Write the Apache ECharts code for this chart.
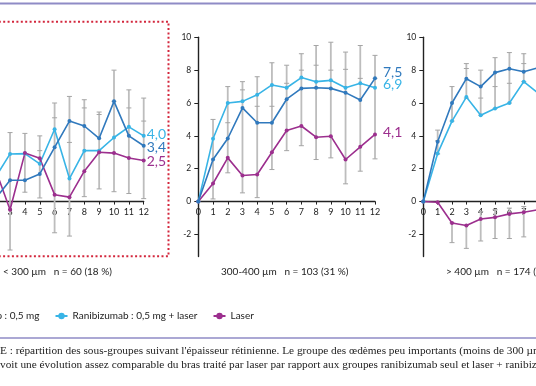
<!DOCTYPE html>
<html>
<head>
<meta charset="utf-8">
<script src="https://cdn.jsdelivr.net/npm/echarts@6/dist/echarts.min.js"></script>
<style>
html,body{margin:0;padding:0;background:#fff;overflow:hidden;width:536px;height:386px;position:relative;}
#c{position:absolute;left:-80px;top:0;width:720px;height:386px;}
</style>
</head>
<body>
<div id="c"></div>
<script>
// ---- data ----
const xs = [0,1,2,3,4,5,6,7,8,9,10,11,12];
const seriesNames = ['Ranibizumab : 0,5 mg', 'Ranibizumab : 0,5 mg + laser', 'Laser'];
const panelTitles = ['< 300 µm   n = 60 (18 %)', '300-400 µm   n = 103 (31 %)', '> 400 µm   n = 174 (52 %)'];
const yTicks = [-2, 0, 2, 4, 6, 8, 10];

// panel 1 : < 300 µm
const p1Rani      = [0, 0.9, 0.15, 1.3, 1.3, 1.68, 3.3, 4.9, 4.6, 3.85, 6.1, 4.0, 3.4];
const p1RaniLaser = [0, 1.5, 1.45, 2.9, 2.92, 2.3, 4.4, 1.4, 3.1, 3.1, 3.9, 4.55, 4.0];
const p1Laser     = [0, 1.2, 2.0, -0.5, 2.95, 2.63, 0.42, 0.27, 1.85, 3.0, 2.95, 2.65, 2.5];
const p1Bars = [[3,-2.95,4.2],[4,0.57,4.15],[5,0.22,4.0],[6,-1.9,6.0],[7,-2.1,6.4],[8,0.3,6.2],[9,0.77,5.45],[10,0.6,8.0],[11,0.49,6.8],[12,0.18,6.3]];
const p1Ticks = [[5,3.1],[6,5.1],[7,3.6],[8,5.7],[9,5.3],[10,6.1],[11,5.7],[12,4.9]];

// panel 2 : 300-400 µm
const p2Rani      = [0, 2.56, 3.84, 5.7, 4.8, 4.8, 6.23, 6.89, 6.93, 6.89, 6.63, 6.18, 7.5];
const p2RaniLaser = [0, 3.82, 6.0, 6.1, 6.5, 7.1, 6.93, 7.55, 7.3, 7.38, 6.93, 7.2, 6.93];
const p2Laser     = [0, 1.1, 2.66, 1.59, 1.65, 3.0, 4.33, 4.6, 3.92, 3.98, 2.56, 3.33, 4.09];
const p2Bars = [[1,0.16,5.0],[2,1.75,7.0],[3,0.53,7.3],[4,0.24,7.6],[5,1.95,8.45],[6,3.1,8.3],[7,3.4,9.0],[8,2.56,9.5],[9,2.66,9.7],[10,1.08,9.1],[11,1.85,9.5],[12,2.6,8.9]];
const p2Ticks = [[2,4.8],[3,6.8],[4,5.8],[5,5.8],[6,7.2],[7,8.0],[8,8.3],[9,8.0],[10,8.05],[11,7.5],[12,7.5]];

// panel 3 : > 400 µm (visible part only)
const p3Rani      = [0, 3.64, 6.0, 7.48, 7.0, 7.85, 8.09, 7.9, 8.15];
const p3RaniLaser = [0, 2.93, 4.9, 6.36, 5.26, 5.67, 6.0, 7.3, 6.6];
const p3Laser     = [0, -0.04, -1.3, -1.46, -1.06, -0.96, -0.75, -0.65, -0.5];
const p3Bars = [[1,2.9,4.35],[2,4.9,7.0],[3,6.3,8.4],[4,5.26,8.0],[5,5.67,8.76],[6,6.0,9.07],[7,7.3,9.0],
                [2,-2.5,-1.3],[3,-2.85,-1.46],[4,-2.4,-0.6],[5,-2.25,-0.5],[6,-2.25,-0.4],[7,-2.15,-0.3]];
const p3Ticks = [[1,3.7],[3,8.1],[4,6.3],[5,7.0],[6,7.2],[7,8.4]];

const captionLines = [
  "E : répartition des sous-groupes suivant l'épaisseur rétinienne. Le groupe des œdèmes peu importants (moins de 300 µm",
  "voit une évolution assez comparable du bras traité par laser par rapport aux groupes ranibizumab seul et laser + ranibizumab."
];

// ---- styling / layout ----
const SH = 80; // canvas is shifted 80px left so that panels cut by the page edge can be laid out
const colors = ['#3079bd', '#38b4e6', '#9c2f8e'];
const FONT = 'Lato';
const panels = [
  {rani: p1Rani, rl: p1RaniLaser, laser: p1Laser, bars: p1Bars, ticks: p1Ticks, left: -34.5, width: 178.2, showY: false,
   labelDist: 3, labelOff: [[0,1.5],[0,-1],[0,0.5]]},
  {rani: p2Rani, rl: p2RaniLaser, laser: p2Laser, bars: p2Bars, ticks: p2Ticks, left: 198.3, width: 176.7, showY: true,
   labelDist: 8, labelOff: [[0,-6],[0,-3],[0,-2]]},
  {rani: p3Rani, rl: p3RaniLaser, laser: p3Laser, bars: p3Bars, ticks: p3Ticks, left: 423.3, width: 172.2, showY: true,
   labelDist: null}
];
const GTOP = 37.3, GH = 219.3, YMIN = -3.35, YMAX = 10;
// x axis sits on y = 0: offset it up from the grid bottom by the height of the negative range
const X_OFFSET = -GH * (0 - YMIN) / (YMAX - YMIN);

const fmt = v => v.toFixed(1).replace('.', ',');

const grids = [], xAxes = [], yAxes = [], series = [];
panels.forEach((p, i) => {
  grids.push({left: p.left + SH, top: GTOP, width: p.width, height: GH});
  xAxes.push({
    type: 'value', gridIndex: i, min: 0, max: 12, interval: 1, position: 'bottom', offset: X_OFFSET,
    axisLine: {show: true, onZero: false, lineStyle: {color: '#222', width: 1.4}},
    axisTick: {show: true, length: 3, lineStyle: {color: '#222', width: 1}},
    axisLabel: {fontFamily: FONT, fontSize: 9, color: '#222', margin: 6},
    splitLine: {show: false}
  });
  yAxes.push({
    type: 'value', gridIndex: i, min: YMIN, max: YMAX, show: p.showY,
    axisLine: {show: true, onZero: false, lineStyle: {color: '#222', width: 1.4}},
    axisTick: {show: true, length: 4, customValues: yTicks, lineStyle: {color: '#222', width: 1}},
    axisLabel: {fontFamily: FONT, fontSize: 8.5, color: '#222', margin: 7, customValues: yTicks},
    splitLine: {show: false}
  });
  // error bars
  series.push({
    type: 'custom', xAxisIndex: i, yAxisIndex: i, z: 1, silent: true,
    encode: {x: 0, y: [1, 2]},
    data: p.bars,
    renderItem: function (params, api) {
      const x = api.value(0);
      const a = api.coord([x, api.value(1)]);
      const b = api.coord([x, api.value(2)]);
      const w = 2.5;
      const st = {stroke: '#bdbdbd', lineWidth: 1.8};
      const cs = {stroke: '#a5a5a5', lineWidth: 1};
      return {type: 'group', children: [
        {type: 'line', shape: {x1: a[0], y1: a[1], x2: b[0], y2: b[1]}, style: st},
        {type: 'line', shape: {x1: a[0]-w, y1: a[1], x2: a[0]+w, y2: a[1]}, style: cs},
        {type: 'line', shape: {x1: b[0]-w, y1: b[1], x2: b[0]+w, y2: b[1]}, style: cs}
      ]};
    }
  });
  series.push({
    type: 'custom', xAxisIndex: i, yAxisIndex: i, z: 1, silent: true,
    encode: {x: 0, y: 1},
    data: p.ticks,
    renderItem: function (params, api) {
      const c = api.coord([api.value(0), api.value(1)]);
      return {type: 'line', shape: {x1: c[0]-2.5, y1: c[1], x2: c[0]+2.5, y2: c[1]}, style: {stroke: '#a5a5a5', lineWidth: 1}};
    }
  });
  [p.rani, p.rl, p.laser].forEach((arr, k) => {
    const s = {
      type: 'line', name: seriesNames[k], xAxisIndex: i, yAxisIndex: i, z: 3 + (k === 0 ? 1 : 0),
      data: arr.map((v, j) => [xs[j], v]),
      symbol: 'circle', symbolSize: 4, showSymbol: true,
      color: colors[k],
      lineStyle: {color: colors[k], width: 1.6},
      itemStyle: {color: colors[k]},
      animation: false
    };
    if (p.labelDist !== null) {
      s.endLabel = {
        show: true, formatter: fmt(arr[arr.length - 1]), color: colors[k],
        fontFamily: FONT, fontSize: 14, distance: p.labelDist, offset: p.labelOff[k]
      };
    }
    series.push(s);
  });
});

const graphics = [
  {type: 'line', shape: {x1: 0, y1: 3.5, x2: 720, y2: 3.5}, style: {stroke: '#8f8bc6', lineWidth: 2}},
  {type: 'rect', shape: {x: SH - 10, y: 21.7, width: 178.5, height: 234.5},
   style: {fill: 'none', stroke: '#d3273d', lineWidth: 2, lineDash: [2, 2.4]}},
  {type: 'text', x: SH + 3, y: 267, style: {text: panelTitles[0], font: '10px ' + FONT, fill: '#222'}},
  {type: 'text', x: SH + 221, y: 267, style: {text: panelTitles[1], font: '10px ' + FONT, fill: '#222'}},
  {type: 'text', x: SH + 446, y: 267, style: {text: panelTitles[2], font: '10px ' + FONT, fill: '#222'}},
  {type: 'line', shape: {x1: 0, y1: 338, x2: 720, y2: 338}, style: {stroke: '#8f8bc6', lineWidth: 1.6}},
  {type: 'text', x: SH, y: 346, style: {text: captionLines[0], font: '11.3px "Liberation Serif"', fill: '#222'}},
  {type: 'text', x: SH, y: 360, style: {text: captionLines[1], font: '11.3px "Liberation Serif"', fill: '#222'}}
];

const chart = echarts.init(document.getElementById('c'), null, {renderer: 'canvas'});
chart.setOption({
  animation: false,
  backgroundColor: '#fff',
  grid: grids, xAxis: xAxes, yAxis: yAxes, series: series,
  legend: {
    data: seriesNames, left: SH - 77, top: 306, itemGap: 15, itemWidth: 12, itemHeight: 8,
    textStyle: {fontFamily: FONT, fontSize: 10, color: '#222'},
    selectedMode: false
  },
  graphic: graphics
});
</script>
</body>
</html>
